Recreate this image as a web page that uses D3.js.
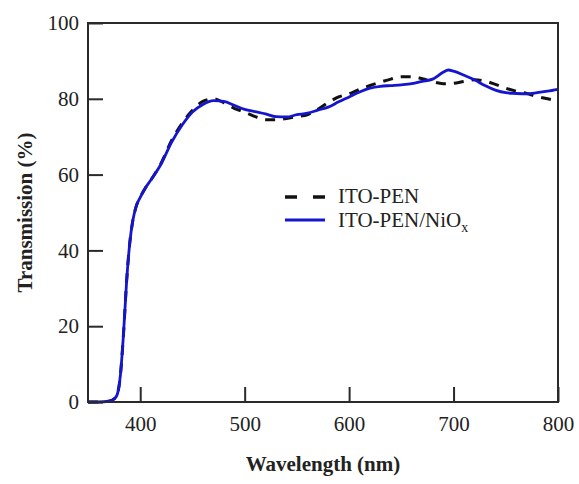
<!DOCTYPE html>
<html>
<head>
<meta charset="utf-8">
<script src="https://cdn.jsdelivr.net/npm/d3@7"></script>
<style>
  html, body { margin: 0; padding: 0; background: #fff; }
  svg { display: block; }
  text { font-family: "Liberation Serif", "DejaVu Serif", serif; fill: #222; }
</style>
</head>
<body>
<svg id="chart" width="579" height="484"></svg>
<script>
// ---- data ----
const wavelengths = [350,360,370,375,378,381,384,387,390,393,396,400,405,410,420,430,440,450,460,470,480,490,500,510,520,530,540,550,560,570,580,590,600,610,620,630,640,650,660,670,680,690,695,700,710,720,730,740,750,760,770,780,790,800];
const itoPen = [0,0,0.2,0.8,2,7,18,32,42,48,51.5,54,56.5,58.5,63,69,73.5,77,79.3,80,79,77.5,76.5,75.3,74.5,74.5,74.8,75.3,75.8,77.2,79,80.5,81.3,82.5,83.5,84.4,85.2,85.8,85.8,85.3,84.5,84,84,84.1,84.6,85,84.7,83.8,82.8,82,81.4,80.6,80,79.5];
const itoPenNiOx = [0,0,0.2,0.8,2,7,18,32,42,48,51.5,54,56.5,58.5,62.8,68.5,73,76.5,78.5,79.5,79.3,78.3,77.2,76.6,76,75.3,75.2,75.8,76.2,77,77.8,79.2,80.5,81.8,82.8,83.3,83.5,83.7,84,84.6,85.2,87,87.6,87.3,86.2,85,83.5,82.3,81.6,81.4,81.3,81.6,82,82.5];
const xTicks = [400,500,600,700,800];
const yTicks = [0,20,40,60,80,100];
const seriesNames = ["ITO-PEN", "ITO-PEN/NiO"];

// ---- layout ----
const svg = d3.select("#chart");
const m = {left: 88, top: 23, right: 558, bottom: 402};
const x = d3.scaleLinear().domain([350, 800]).range([m.left, m.right]);
const y = d3.scaleLinear().domain([0, 100]).range([m.bottom, m.top]);
const axisColor = "#2a2a2a";

// curves
const line = d3.line().x(d => x(d[0])).y(d => y(d[1])).curve(d3.curveMonotoneX);
const dashData = wavelengths.map((w, i) => [w, itoPen[i]]);
const blueData = wavelengths.map((w, i) => [w, itoPenNiOx[i]]);

svg.append("path").datum(dashData)
  .attr("d", line).attr("fill", "none")
  .attr("stroke", "#111").attr("stroke-width", 3)
  .attr("stroke-dasharray", "10,8");

svg.append("path").datum(blueData)
  .attr("d", line).attr("fill", "none")
  .attr("stroke", "#1515d0").attr("stroke-width", 2.8)
  .attr("stroke-linejoin", "round");

// axes
const xAxis = d3.axisBottom(x).tickValues(xTicks).tickSizeInner(-15).tickSizeOuter(0).tickPadding(14);
const yAxis = d3.axisLeft(y).tickValues(yTicks).tickSizeInner(-15).tickSizeOuter(0).tickPadding(9);

const gx = svg.append("g").attr("transform", `translate(0,${m.bottom})`).call(xAxis);
const gy = svg.append("g").attr("transform", `translate(${m.left},0)`).call(yAxis);
[gx, gy].forEach(g => {
  g.select(".domain").remove();
  g.selectAll(".tick line").attr("stroke", axisColor).attr("stroke-width", 2);
  g.selectAll(".tick text").attr("font-family", "Liberation Serif, serif")
    .attr("font-size", 21).attr("fill", "#222");
});

// frame
svg.append("rect")
  .attr("x", m.left).attr("y", m.top)
  .attr("width", m.right - m.left).attr("height", m.bottom - m.top)
  .attr("fill", "none").attr("stroke", axisColor).attr("stroke-width", 2);

// axis titles
svg.append("text")
  .attr("x", (m.left + m.right) / 2).attr("y", 471)
  .attr("text-anchor", "middle").attr("font-weight", "bold").attr("font-size", 21)
  .text("Wavelength (nm)");
svg.append("text")
  .attr("transform", `translate(32,${(m.top + m.bottom) / 2}) rotate(-90)`)
  .attr("text-anchor", "middle").attr("font-weight", "bold").attr("font-size", 21)
  .text("Transmission (%)");

// legend
const lg = svg.append("g");
lg.append("line").attr("x1", 285).attr("x2", 297).attr("y1", 197).attr("y2", 197)
  .attr("stroke", "#111").attr("stroke-width", 3.5);
lg.append("line").attr("x1", 313).attr("x2", 325).attr("y1", 197).attr("y2", 197)
  .attr("stroke", "#111").attr("stroke-width", 3.5);
lg.append("text").attr("x", 338).attr("y", 203).attr("font-size", 21).text(seriesNames[0]);
lg.append("line").attr("x1", 285).attr("x2", 325).attr("y1", 220).attr("y2", 220)
  .attr("stroke", "#1515d0").attr("stroke-width", 3);
const t2 = lg.append("text").attr("x", 338).attr("y", 227).attr("font-size", 21);
t2.append("tspan").text(seriesNames[1]);
t2.append("tspan").attr("font-size", 14).attr("dy", 5).text("x");
</script>
</body>
</html>
